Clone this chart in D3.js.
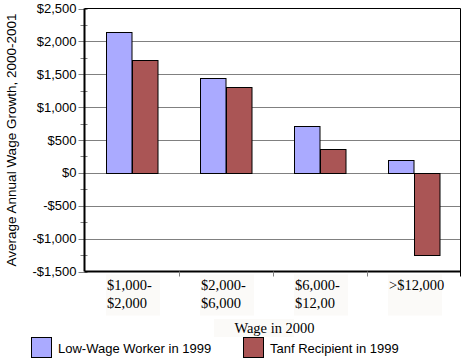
<!DOCTYPE html>
<html>
<head>
<meta charset="utf-8">
<script src="https://cdn.jsdelivr.net/npm/d3@7"></script>
<style>
  body { margin: 0; background: #fff; }
  svg { display: block; }
  .ylab { font-family: "Liberation Sans", Arial, sans-serif; font-size: 13px; fill: #000; }
  .xlab { font-family: "Liberation Serif", "Times New Roman", serif; font-size: 14.5px; fill: #000; }
  .leg { font-family: "Liberation Sans", Arial, sans-serif; font-size: 13px; fill: #000; }
</style>
</head>
<body>
<div id="chart"></div>
<script>
// chart data
var categories = ["$1,000-|$2,000", "$2,000-|$6,000", "$6,000-|$12,00", ">$12,000"];
var seriesNames = ["Low-Wage Worker in 1999", "Tanf Recipient in 1999"];
var lowWage = [2150, 1450, 720, 200];
var tanf = [1720, 1310, 365, -1250];
var yTicks = [2500, 2000, 1500, 1000, 500, 0, -500, -1000, -1500];

var colors = ["#aaaaff", "#aa5555"];
var width = 466, height = 360;
var plot = { left: 84.5, right: 460.5, top: 8.5, bottom: 271.5 };

var svg = d3.select("#chart").append("svg")
    .attr("width", width)
    .attr("height", height);

var x = d3.scaleBand()
    .domain(categories)
    .range([plot.left, plot.right])
    .paddingInner(0)
    .paddingOuter(0);

var y = d3.scaleLinear()
    .domain([-1500, 2500])
    .range([plot.bottom, plot.top]);

// gridlines
svg.append("g")
    .selectAll("line")
    .data(yTicks.filter(function (d) { return d > -1500 && d < 2500; }))
    .enter().append("line")
    .attr("x1", plot.left)
    .attr("x2", plot.right)
    .attr("y1", function (d) { return Math.round(y(d)) + 0.5; })
    .attr("y2", function (d) { return Math.round(y(d)) + 0.5; })
    .attr("stroke", "#808080")
    .attr("stroke-width", 1);

// minor ticks on y axis
var minor = d3.range(-1500, 2501, 250);
svg.append("g")
    .selectAll("line")
    .data(minor)
    .enter().append("line")
    .attr("x1", function (d) { return d % 500 === 0 ? plot.left - 6 : plot.left - 4; })
    .attr("x2", plot.left + 3)
    .attr("y1", function (d) { return Math.round(y(d)) + 0.5; })
    .attr("y2", function (d) { return Math.round(y(d)) + 0.5; })
    .attr("stroke", "#808080");

// y labels
var fmt = function (d) {
    var s = d3.format(",")(Math.abs(d));
    return (d < 0 ? "-$" : "$") + s;
};
svg.append("g")
    .selectAll("text")
    .data(yTicks)
    .enter().append("text")
    .attr("class", "ylab")
    .attr("x", plot.left - 8)
    .attr("y", function (d) { return y(d) + 4.5; })
    .attr("text-anchor", "end")
    .text(fmt);

// axis title
svg.append("text")
    .attr("class", "ylab")
    .attr("transform", "translate(16," + ((plot.top + plot.bottom) / 2) + ") rotate(-90)")
    .attr("text-anchor", "middle")
    .style("font-size", "13.5px")
    .text("Average Annual Wage Growth, 2000-2001");

// bars
var groupW = 51, barW = groupW / 2;
var series = [lowWage, tanf];
series.forEach(function (vals, si) {
    svg.append("g")
        .selectAll("rect")
        .data(vals)
        .enter().append("rect")
        .attr("x", function (d, i) {
            return Math.round(x(categories[i]) + (x.bandwidth() - groupW) / 2 + si * barW) + 0.5;
        })
        .attr("y", function (d) { return Math.round(y(Math.max(0, d))) + 0.5; })
        .attr("width", barW)
        .attr("height", function (d) { return Math.round(Math.abs(y(d) - y(0))); })
        .attr("fill", colors[si])
        .attr("stroke", "#000")
        .attr("stroke-width", 1);
});

// frame
svg.append("line")
    .attr("x1", plot.left).attr("x2", plot.right)
    .attr("y1", plot.top).attr("y2", plot.top)
    .attr("stroke", "#000");
svg.append("line")
    .attr("x1", plot.right).attr("x2", plot.right)
    .attr("y1", plot.top).attr("y2", plot.bottom + 5)
    .attr("stroke", "#000");
svg.append("line")
    .attr("x1", plot.left).attr("x2", plot.left)
    .attr("y1", plot.top).attr("y2", plot.bottom)
    .attr("stroke", "#000").attr("stroke-width", 2);
svg.append("line")
    .attr("x1", plot.left).attr("x2", plot.right)
    .attr("y1", plot.bottom).attr("y2", plot.bottom)
    .attr("stroke", "#000").attr("stroke-width", 2);

// x category ticks
svg.append("g")
    .selectAll("line")
    .data(categories.slice(1))
    .enter().append("line")
    .attr("x1", function (d) { return Math.round(x(d)) + 0.5; })
    .attr("x2", function (d) { return Math.round(x(d)) + 0.5; })
    .attr("y1", plot.bottom)
    .attr("y2", plot.bottom + 5)
    .attr("stroke", "#808080");

// x labels
var xl = svg.append("g")
    .selectAll("g")
    .data(categories)
    .enter().append("g")
    .attr("transform", function (d) {
        return "translate(" + (x(d) + (x.bandwidth() - groupW) / 2) + "," + (plot.bottom + 3) + ")";
    });
xl.append("rect")
    .attr("x", 0)
    .attr("y", 0)
    .attr("width", 54)
    .attr("height", 41)
    .attr("fill", "#fbfaf8");
xl.each(function (d) {
    var lines = d.split("|");
    var t = d3.select(this).append("text").attr("class", "xlab");
    lines.forEach(function (s, i) {
        t.append("tspan").attr("x", 1).attr("y", 15 + i * 18).text(s);
    });
});

// x title
svg.append("rect")
    .attr("x", 214).attr("y", 319)
    .attr("width", 80).attr("height", 18)
    .attr("fill", "#fbfaf8");
svg.append("text")
    .attr("class", "xlab")
    .attr("x", (plot.left + plot.right) / 2 + 2)
    .attr("y", 333)
    .attr("text-anchor", "middle")
    .text("Wage in 2000");

// legend
var legX = [31, 243];
var leg = svg.append("g")
    .selectAll("g")
    .data(seriesNames)
    .enter().append("g")
    .attr("transform", function (d, i) { return "translate(" + legX[i] + ",337)"; });
leg.append("rect")
    .attr("x", 0.5).attr("y", 0.5)
    .attr("width", 20).attr("height", 20)
    .attr("fill", function (d, i) { return colors[i]; })
    .attr("stroke", "#000");
leg.append("text")
    .attr("class", "leg")
    .attr("x", 27)
    .attr("y", 16)
    .text(function (d) { return d; });
</script>
</body>
</html>
